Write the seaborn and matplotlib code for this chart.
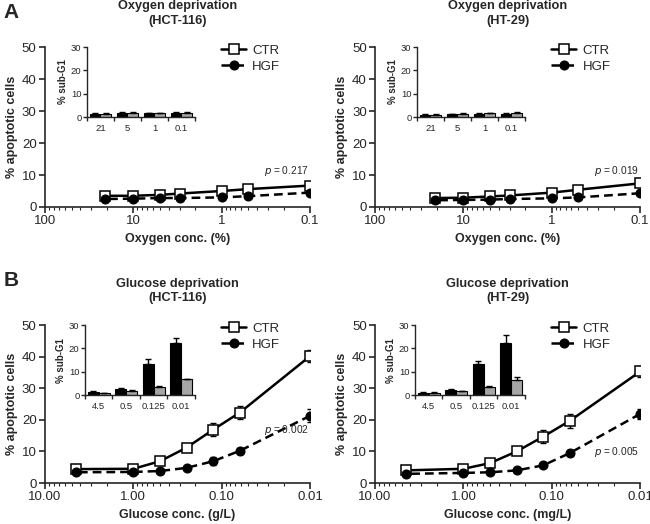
import numpy as np
import pandas as pd
import matplotlib
matplotlib.use("Agg")
import matplotlib.pyplot as plt
import matplotlib.ticker as mticker
import seaborn as sns

# main line data
oxygen_conc = [21, 10, 5, 3, 1, 0.5, 0.1]
glucose_conc = [4.5, 1.0, 0.5, 0.25, 0.125, 0.0625, 0.01]

hct_oxy_ctr = [3.5, 3.5, 3.8, 4.2, 5.0, 5.6, 6.7]
hct_oxy_hgf = [2.5, 2.6, 2.8, 2.8, 3.0, 3.4, 4.5]
hct_oxy_ctr_err = [0.3, 0.3, 0.3, 0.3, 0.4, 0.4, 0.5]
hct_oxy_hgf_err = [0.2, 0.2, 0.2, 0.2, 0.3, 0.3, 0.4]

ht_oxy_ctr = [2.8, 2.9, 3.3, 3.6, 4.5, 5.4, 7.4]
ht_oxy_hgf = [2.1, 2.2, 2.3, 2.5, 2.7, 3.0, 4.3]
ht_oxy_ctr_err = [0.3, 0.3, 0.3, 0.3, 0.4, 0.4, 0.5]
ht_oxy_hgf_err = [0.2, 0.2, 0.2, 0.2, 0.3, 0.3, 0.4]

hct_glu_ctr = [4.4, 4.5, 6.9, 11.2, 16.9, 22.3, 40.2]
hct_glu_hgf = [3.4, 3.5, 3.8, 4.8, 6.9, 10.2, 21.3]
hct_glu_ctr_err = [0.5, 0.5, 0.8, 1.0, 2.0, 2.0, 2.0]
hct_glu_hgf_err = [0.4, 0.4, 0.5, 0.6, 1.2, 1.0, 2.0]

ht_glu_ctr = [4.0, 4.5, 6.3, 10.0, 14.7, 19.7, 35.3]
ht_glu_hgf = [2.9, 3.2, 3.4, 4.0, 5.6, 9.5, 21.9]
ht_glu_ctr_err = [0.4, 0.4, 0.6, 0.8, 2.0, 2.2, 1.8]
ht_glu_hgf_err = [0.3, 0.3, 0.4, 0.5, 0.6, 0.8, 1.5]

# inset bar data
oxy_inset_labels = ["21", "5", "1", "0.1"]
glu_inset_labels = ["4.5", "0.5", "0.125", "0.01"]

hct_oxy_bar_ctr = [1.5, 1.6, 1.6, 1.6]
hct_oxy_bar_hgf = [1.3, 1.6, 1.6, 1.8]
hct_oxy_bar_ctr_err = [0.4, 0.4, 0.3, 0.4]
hct_oxy_bar_hgf_err = [0.3, 0.4, 0.3, 0.4]

ht_oxy_bar_ctr = [1.0, 1.2, 1.3, 1.5]
ht_oxy_bar_hgf = [1.0, 1.3, 1.6, 1.8]
ht_oxy_bar_ctr_err = [0.3, 0.3, 0.3, 0.4]
ht_oxy_bar_hgf_err = [0.3, 0.3, 0.3, 0.4]

hct_glu_bar_ctr = [1.3, 2.5, 13.5, 22.5]
hct_glu_bar_hgf = [0.8, 1.8, 3.5, 6.8]
hct_glu_bar_ctr_err = [0.5, 0.7, 2.0, 1.8]
hct_glu_bar_hgf_err = [0.3, 0.3, 0.5, 0.3]

ht_glu_bar_ctr = [1.1, 2.2, 13.2, 22.3]
ht_glu_bar_hgf = [0.8, 1.6, 3.6, 6.5]
ht_glu_bar_ctr_err = [0.4, 0.4, 1.5, 3.3]
ht_glu_bar_hgf_err = [0.4, 0.3, 0.5, 1.3]

sns.set_style("ticks")
plt.rcParams["font.family"] = ["Liberation Sans", "DejaVu Sans"]
plt.rcParams["axes.linewidth"] = 1.2
plt.rcParams["xtick.major.width"] = 1.2
plt.rcParams["ytick.major.width"] = 1.2


def draw_main(ax, x, ctr, hgf, ctr_err, hgf_err, xlim, xlabel, title, ticklabels, pval, py):
    ax.errorbar(x, ctr, yerr=ctr_err, fmt="none", ecolor="black", elinewidth=1, capsize=2.5, zorder=2)
    ax.errorbar(x, hgf, yerr=hgf_err, fmt="none", ecolor="black", elinewidth=1, capsize=2.5, zorder=2)
    sns.lineplot(x=x, y=ctr, ax=ax, color="black", linewidth=1.8, marker="s", markersize=7,
                 markerfacecolor="white", markeredgecolor="black", markeredgewidth=1.1,
                 label="CTR", zorder=3)
    sns.lineplot(x=x, y=hgf, ax=ax, color="black", linewidth=1.8, linestyle=(0, (3.5, 2)), marker="o",
                 markersize=6.5, markerfacecolor="black", markeredgecolor="black", label="HGF", zorder=3)
    ax.set_xscale("log")
    ax.set_xlim(*xlim)
    ax.set_ylim(0, 50)
    ax.set_yticks([0, 10, 20, 30, 40, 50])
    ticks = [xlim[0] / 10 ** i for i in range(4)]
    ax.set_xticks(ticks)
    ax.set_xticklabels(ticklabels)
    ax.xaxis.set_minor_locator(mticker.LogLocator(base=10, subs=np.arange(2, 10)))
    ax.xaxis.set_minor_formatter(mticker.NullFormatter())
    ax.tick_params(axis="both", labelsize=9.5, length=4, direction="out", pad=2)
    ax.tick_params(axis="x", which="minor", length=2.5, width=0.8)
    ax.set_xlabel(xlabel, fontsize=9, fontweight="bold", labelpad=4)
    ax.set_ylabel("% apoptotic cells", fontsize=9, fontweight="bold", labelpad=3)
    ax.set_title(title, fontsize=9.2, fontweight="bold", pad=17, linespacing=1.3)
    sns.despine(ax=ax)
    ax.spines["left"].set_bounds(0, 50)
    ax.annotate(r"$\it{p}$ = " + pval, xy=(0.995, py), xycoords=("axes fraction", "data"),
                ha="right", va="center", fontsize=7.3)
    leg = ax.legend(loc="upper left", bbox_to_anchor=(0.645, 1.05), frameon=False, fontsize=9.5,
                    handlelength=1.9, handletextpad=0.45, labelspacing=0.3, borderaxespad=0)
    return leg


def draw_inset(fig, rect, labels, ctr, hgf, ctr_err, hgf_err):
    ax = fig.add_axes(rect)
    df = pd.DataFrame({
        "conc": labels * 2,
        "val": ctr + hgf,
        "grp": ["CTR"] * len(labels) + ["HGF"] * len(labels),
    })
    sns.barplot(data=df, x="conc", y="val", hue="grp", order=labels, palette=["black", "#a6a6a6"],
                edgecolor="black", linewidth=0.8, errorbar=None, ax=ax, legend=False, width=0.8)
    errs = ctr_err + hgf_err
    vals = ctr + hgf
    for patch, v, e in zip(ax.patches, vals, errs):
        cx = patch.get_x() + patch.get_width() / 2
        ax.errorbar([cx], [v], yerr=[[0], [e]], fmt="none", ecolor="black", elinewidth=1,
                    capsize=2.5, capthick=1)
    ax.set_ylim(0, 30)
    ax.set_yticks([0, 10, 20, 30])
    ax.set_xlim(-0.5, len(labels) - 0.5)
    ax.set_xticks(np.arange(len(labels)))
    ax.set_xticks(np.arange(len(labels) + 1) - 0.5, minor=True)
    ax.tick_params(axis="x", which="major", length=0, labelsize=6.8, pad=5)
    ax.tick_params(axis="x", which="minor", length=3, width=1)
    ax.tick_params(axis="y", labelsize=6.8, length=3, width=1, pad=1)
    ax.set_xlabel("")
    ax.set_ylabel("% sub-G1", fontsize=7, fontweight="bold", labelpad=2)
    ax.set_facecolor("none")
    for s in ("left", "bottom"):
        ax.spines[s].set_linewidth(1)
    sns.despine(ax=ax)
    return ax


fig = plt.figure(figsize=(6.5, 5.24), dpi=100)

w = 0.408
h_top = 0.305
h_bot = 0.3015
ax1 = fig.add_axes([0.0692, 0.605, w, h_top])
ax2 = fig.add_axes([0.577, 0.605, w, h_top])
ax3 = fig.add_axes([0.0692, 0.0782, w, h_bot])
ax4 = fig.add_axes([0.577, 0.0782, w, h_bot])

oxy_labels = ["100", "10", "1", "0.1"]
glu_labels = ["10.00", "1.00", "0.10", "0.01"]

draw_main(ax1, oxygen_conc, hct_oxy_ctr, hct_oxy_hgf, hct_oxy_ctr_err, hct_oxy_hgf_err,
          (100, 0.1), "Oxygen conc. (%)", "Oxygen deprivation\n(HCT-116)", oxy_labels, "0.217", 11.2)
draw_main(ax2, oxygen_conc, ht_oxy_ctr, ht_oxy_hgf, ht_oxy_ctr_err, ht_oxy_hgf_err,
          (100, 0.1), "Oxygen conc. (%)", "Oxygen deprivation\n(HT-29)", oxy_labels, "0.019", 11.2)
draw_main(ax3, glucose_conc, hct_glu_ctr, hct_glu_hgf, hct_glu_ctr_err, hct_glu_hgf_err,
          (10, 0.01), "Glucose conc. (g/L)", "Glucose deprivation\n(HCT-116)", glu_labels, "0.002", 16.8)
draw_main(ax4, glucose_conc, ht_glu_ctr, ht_glu_hgf, ht_glu_ctr_err, ht_glu_hgf_err,
          (10, 0.01), "Glucose conc. (mg/L)", "Glucose deprivation\n(HT-29)", glu_labels, "0.005", 9.8)

draw_inset(fig, [0.1338, 0.7767, 0.166, 0.1336], oxy_inset_labels,
           hct_oxy_bar_ctr, hct_oxy_bar_hgf, hct_oxy_bar_ctr_err, hct_oxy_bar_hgf_err)
draw_inset(fig, [0.6415, 0.7767, 0.166, 0.1336], oxy_inset_labels,
           ht_oxy_bar_ctr, ht_oxy_bar_hgf, ht_oxy_bar_ctr_err, ht_oxy_bar_hgf_err)
draw_inset(fig, [0.1308, 0.246, 0.169, 0.1336], glu_inset_labels,
           hct_glu_bar_ctr, hct_glu_bar_hgf, hct_glu_bar_ctr_err, hct_glu_bar_hgf_err)
draw_inset(fig, [0.6385, 0.246, 0.169, 0.1336], glu_inset_labels,
           ht_glu_bar_ctr, ht_glu_bar_hgf, ht_glu_bar_ctr_err, ht_glu_bar_hgf_err)

fig.text(0.005, 0.977, "A", fontsize=15, fontweight="bold", ha="left", va="center")
fig.text(0.005, 0.464, "B", fontsize=15, fontweight="bold", ha="left", va="center")

fig.savefig("out.png", dpi=100)
